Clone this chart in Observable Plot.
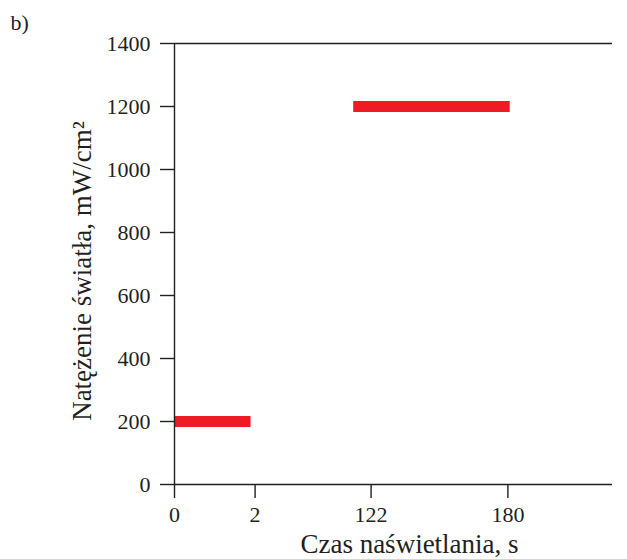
<!DOCTYPE html>
<html>
<head>
<meta charset="utf-8">
<script src="https://cdn.jsdelivr.net/npm/d3@7"></script>
<script src="https://cdn.jsdelivr.net/npm/@observablehq/plot@0.6"></script>
<style>
  html, body { margin: 0; padding: 0; background: #fff; }
</style>
</head>
<body>
<div id="chart"></div>
<script>
// Data
const segStart = [0, 104];      // s
const segEnd = [1.9, 181];      // s
const intensity = [200, 1200];  // mW/cm²
const xTicks = [0, 2, 122, 180];
const yTicks = [0, 200, 400, 600, 800, 1000, 1200, 1400];
const panelLabel = ["b)"];
const xTitle = ["Czas naświetlania, s"];
const yTitle = ["Natężenie światła, mW/cm²"];

// The original time axis is broken (non-uniform): map seconds onto a piecewise layout axis
const warp = d3.scaleLinear().domain([0, 2, 122, 180, 225]).range([0, 80.6, 196.6, 333.4, 438]);
const unwarp = new Map(xTicks.map(t => [warp(t), t]));

const segments = segStart.map((s, i) => ({start: warp(s), end: warp(segEnd[i]), value: intensity[i]}));

const ink = "#231f20";
const font = "'Liberation Serif', serif";
const chart = Plot.plot({
  width: 627,
  height: 559,
  marginLeft: 174,
  marginRight: 15,
  marginTop: 43,
  marginBottom: 75,
  style: {fontFamily: font, fontSize: "22px", color: ink, background: "#fff", overflow: "visible"},
  x: {domain: [0, 438]},
  y: {domain: [0, 1400]},
  marks: [
    Plot.ruleY(segments, {x1: "start", x2: "end", y: "value", stroke: "#ED1C24", strokeWidth: 11}),
    Plot.ruleY([0, 1400], {stroke: ink, strokeWidth: 1.4}),
    Plot.ruleX([0], {stroke: ink, strokeWidth: 1.4}),
    Plot.axisX({ticks: xTicks.map(t => warp(t)), tickFormat: v => String(unwarp.get(v) ?? ""),
      tickSize: 14, tickPadding: 8, strokeWidth: 1.4, fontSize: 22, label: null}),
    Plot.axisY({ticks: yTicks, tickFormat: d3.format("d"), tickSize: 14, tickPadding: 10,
      strokeWidth: 1.4, fontSize: 22, label: null}),
    Plot.text(xTitle, {frameAnchor: "bottom", dx: 16, dy: 60, lineAnchor: "middle", textAnchor: "middle", text: d => d, fontSize: 27, fill: ink}),
    Plot.text(yTitle, {frameAnchor: "left", dx: -92, dy: 7, rotate: -90, lineAnchor: "middle", textAnchor: "middle", text: d => d, fontSize: 27, fill: ink}),
    Plot.text(panelLabel, {frameAnchor: "top-left", dx: -164, dy: -21, lineAnchor: "middle", textAnchor: "start", text: d => d, fontSize: 22, fill: ink})
  ]
});
document.getElementById("chart").appendChild(chart);
</script>
</body>
</html>
